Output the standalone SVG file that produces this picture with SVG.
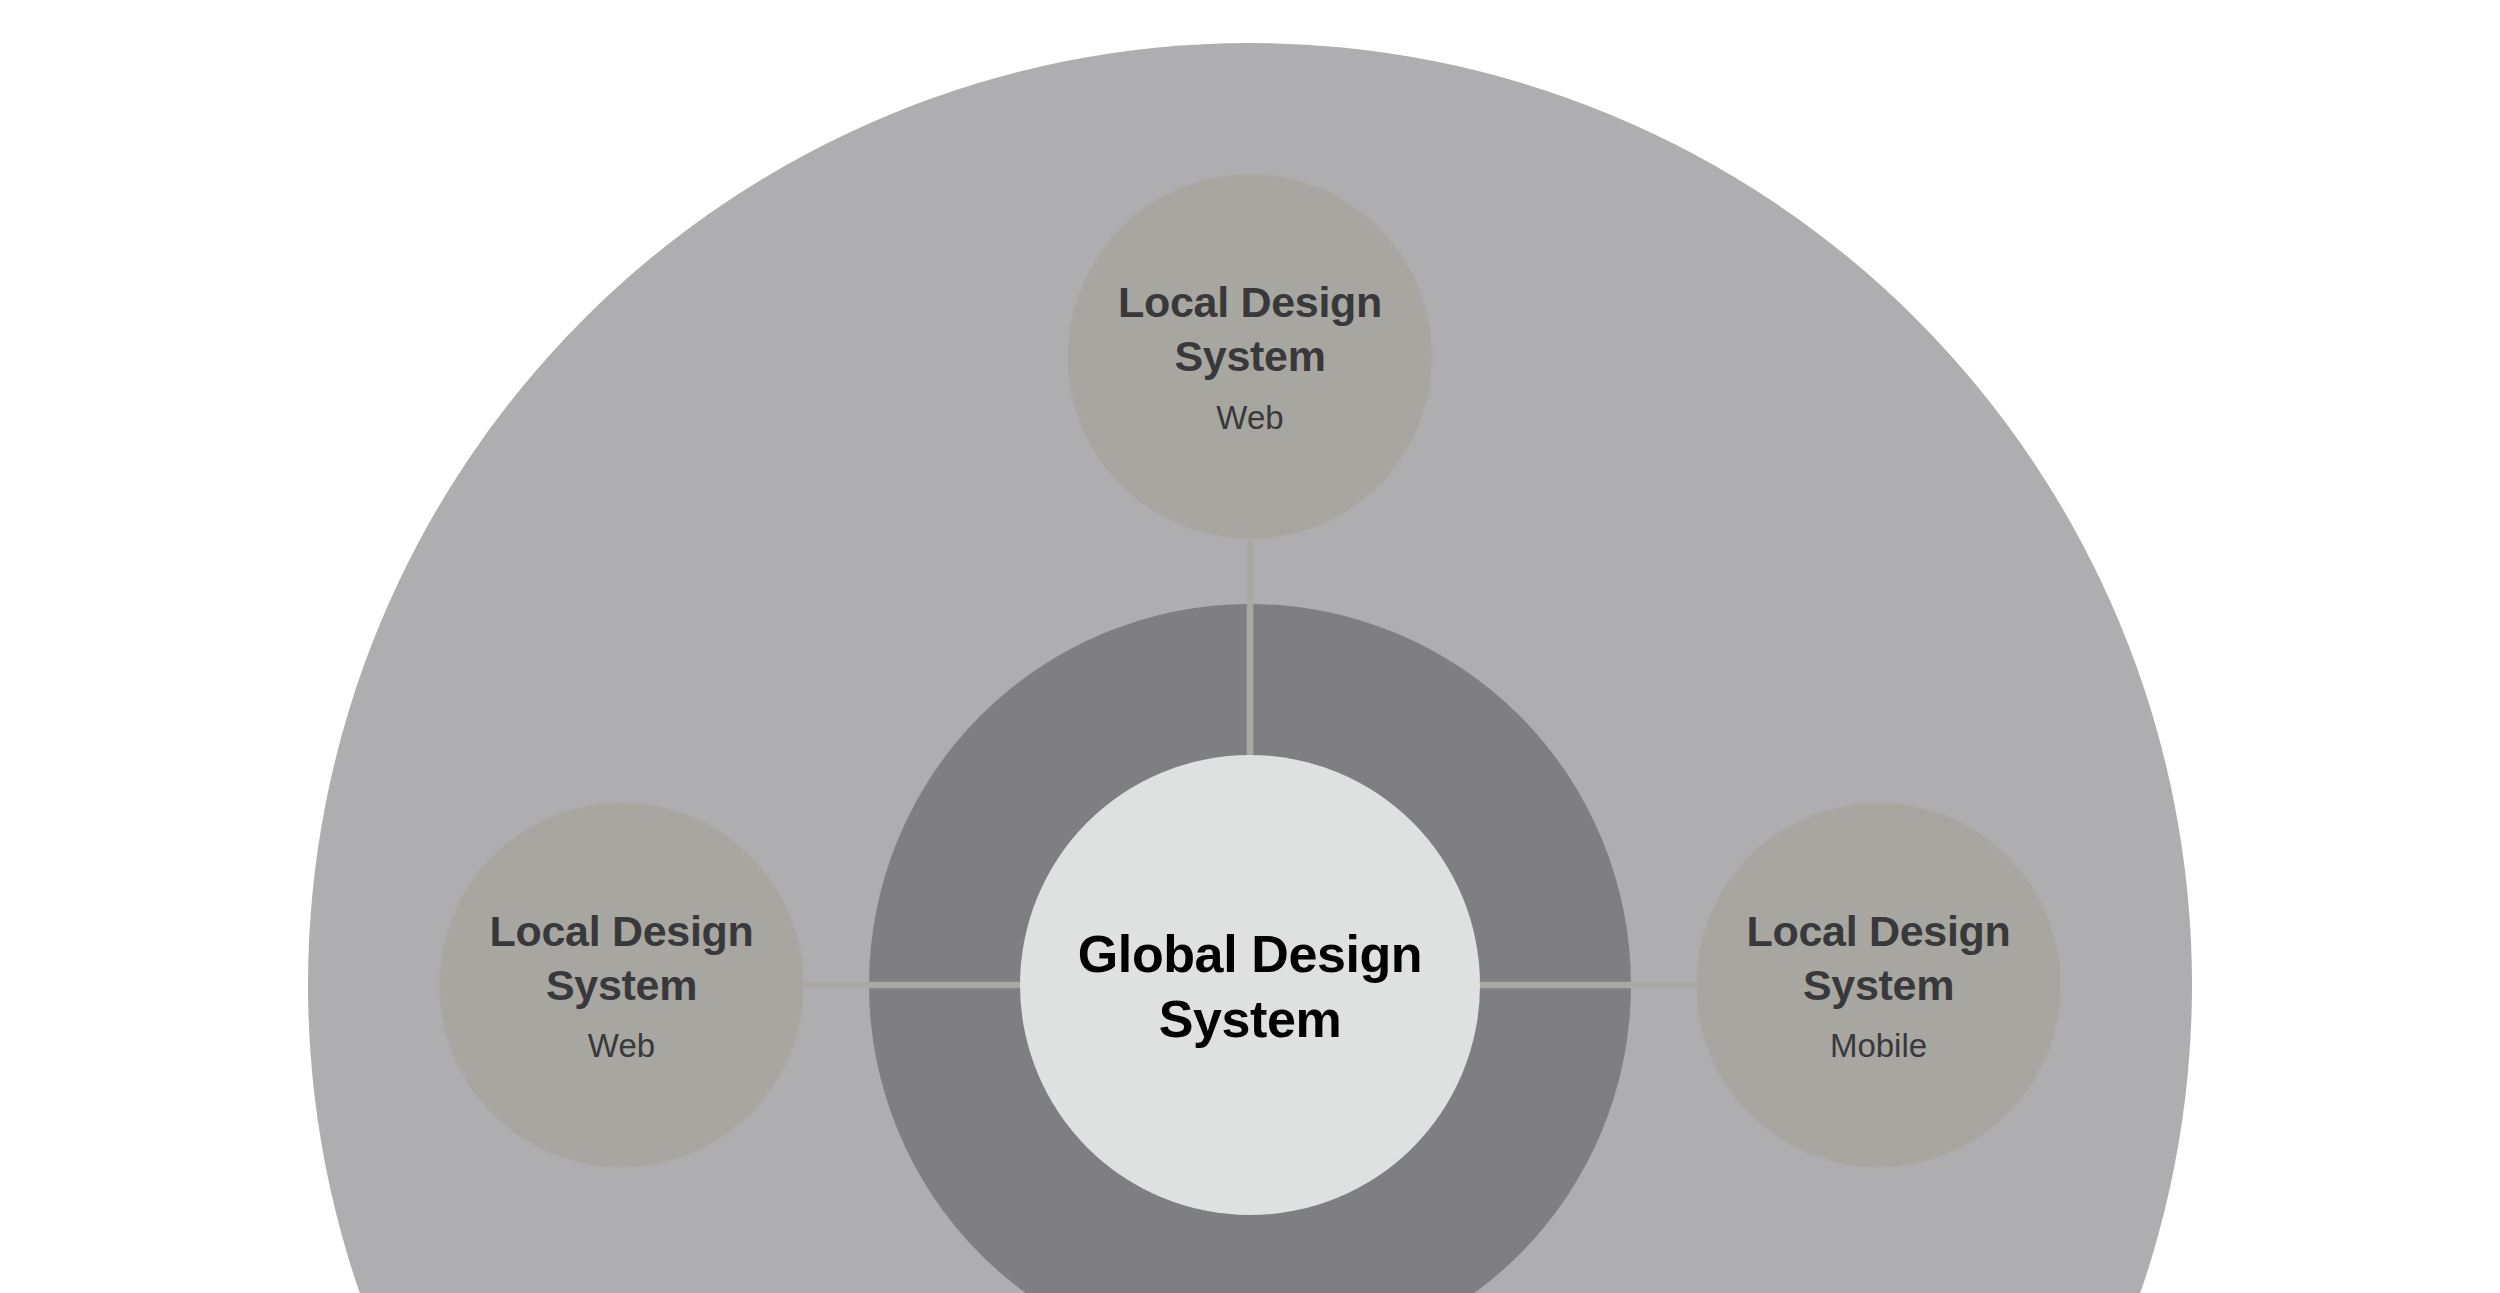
<svg xmlns="http://www.w3.org/2000/svg" width="2500" height="1293" viewBox="0 0 2500 1293">
<style>
.local circle{fill:#A7A6A1;stroke:#ADACA7;stroke-width:1.5}
.title{font-family:"Liberation Sans",Arial,sans-serif;font-weight:700;font-size:43px;fill:#39393B;text-anchor:middle}
.sub{font-family:"Liberation Sans",Arial,sans-serif;font-weight:400;font-size:33px;fill:#39393B;text-anchor:middle}
.gtitle{font-family:"Liberation Sans",Arial,sans-serif;font-weight:700;font-size:52px;fill:#000;text-anchor:middle}
.conn line{stroke:#A9A8A2;stroke-width:6.5}
</style>
<rect width="2500" height="1293" fill="#FFFFFF"/>
<g id="outer-area"><circle cx="1250" cy="985" r="942" fill="#AEAEB0"/></g>
<g id="ring"><circle cx="1250" cy="985" r="381" fill="#7F7F81"/></g>
<g id="connectors" class="conn">
<line x1="1250" y1="538" x2="1250" y2="760"/>
<line x1="803" y1="985" x2="1025" y2="985"/>
<line x1="1475" y1="985" x2="1697" y2="985"/>
</g>
<g id="global">
<circle cx="1250" cy="985" r="230" fill="#DFE1E0"/>
<text class="gtitle" x="1250" y="972" letter-spacing="-0.4">Global Design</text>
<text class="gtitle" x="1250" y="1037" letter-spacing="-0.4">System</text>
</g>
<g id="local-top" class="local">
<circle cx="1250" cy="356.5" r="182.5"/>
<text class="title" x="1250" y="317" letter-spacing="-0.3">Local Design</text>
<text class="title" x="1250" y="371" letter-spacing="-0.3">System</text>
<text class="sub" x="1250" y="429">Web</text>
</g>
<g id="local-left" class="local">
<circle cx="621.5" cy="985" r="182.5"/>
<text class="title" x="621.5" y="946" letter-spacing="-0.3">Local Design</text>
<text class="title" x="621.5" y="1000" letter-spacing="-0.3">System</text>
<text class="sub" x="621.5" y="1057">Web</text>
</g>
<g id="local-right" class="local">
<circle cx="1878.5" cy="985" r="182.5"/>
<text class="title" x="1878.5" y="946" letter-spacing="-0.3">Local Design</text>
<text class="title" x="1878.5" y="1000" letter-spacing="-0.3">System</text>
<text class="sub" x="1878.5" y="1057">Mobile</text>
</g>
</svg>
